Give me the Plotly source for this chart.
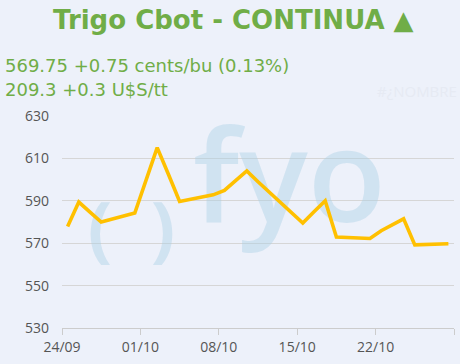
import plotly.graph_objects as go

dates = ["2024-09-24", "2024-09-25", "2024-09-26", "2024-09-27", "2024-09-30",
         "2024-10-01", "2024-10-02", "2024-10-03", "2024-10-04", "2024-10-07",
         "2024-10-08", "2024-10-09", "2024-10-10", "2024-10-11", "2024-10-14",
         "2024-10-15", "2024-10-16", "2024-10-17", "2024-10-18", "2024-10-21",
         "2024-10-22", "2024-10-23", "2024-10-24", "2024-10-25", "2024-10-28"]
prices = [577.9, 589.4, 584.7, 580.0, 584.2,
          599.6, 615.1, 602.5, 589.7, 592.8,
          594.9, 599.5, 604.1, 599.0, 584.4,
          579.5, 584.8, 590.0, 572.9, 572.2,
          575.9, 578.7, 581.5, 569.2, 569.75]

tick_vals = ["2024-09-24", "2024-10-01", "2024-10-08", "2024-10-15", "2024-10-22", "2024-10-29"]
tick_text = ["24/09", "01/10", "08/10", "15/10", "22/10", ""]

title = "Trigo Cbot - CONTINUA ▲"
line1 = "569.75 +0.75 cents/bu (0.13%)"
line2 = "209.3 +0.3 U$S/tt"

GREEN = "#70AD47"
GOLD = "#FFC000"
BG = "#EDF1FA"
WM = "rgba(170,208,228,0.42)"

fig = go.Figure()

# watermark (drawn beneath the line)
fig.add_trace(go.Scatter(
    x=["2024-09-27 09:20", "2024-10-03 00:30"], y=[573.5, 573.5],
    mode="text", text=["<b>(</b>", "<b>)</b>"],
    textfont=dict(family="Open Sans", size=72, color=WM),
    hoverinfo="skip", showlegend=False))
fig.add_trace(go.Scatter(
    x=["2024-10-14 07:30"], y=[595.1],
    mode="text", text=["fyo"],
    textfont=dict(family="Open Sans", size=128, color=WM, weight=600),
    hoverinfo="skip", showlegend=False))

fig.add_trace(go.Scatter(
    x=[d + " 12:00" for d in dates], y=prices,
    mode="lines", line=dict(color=GOLD, width=3.6),
    showlegend=False))

fig.update_layout(
    width=460, height=364,
    margin=dict(l=62, r=6, t=116, b=36),
    paper_bgcolor=BG, plot_bgcolor=BG,
    font=dict(family="Open Sans", size=14, color="#555555"),
    xaxis=dict(type="date", range=["2024-09-24", "2024-10-29"],
               tickvals=tick_vals, ticktext=tick_text,
               showgrid=False, showline=True, linecolor="#CCCCCC", linewidth=1,
               ticks="outside", ticklen=6, tickcolor="#CCCCCC",
               tickfont=dict(family="Open Sans", size=14, color="#555555"),
               zeroline=False),
    yaxis=dict(range=[530, 630], dtick=20, tick0=530,
               showgrid=True, gridcolor="#D6D6D6", gridwidth=1,
               showline=False, zeroline=False, ticks="",
               ticklabelstandoff=12,
               tickfont=dict(family="Open Sans", size=14, color="#555555")),
    annotations=[
        dict(text="<b>" + title + "</b>", xref="paper", yref="paper",
             x=0.5, y=1, xanchor="center", yanchor="middle",
             xshift=-25, yshift=116 - 20, showarrow=False,
             font=dict(family="DejaVu Sans", size=26, color=GREEN)),
        dict(text=line1, xref="paper", yref="paper", x=0, y=1,
             xanchor="left", yanchor="middle", xshift=-59, yshift=116 - 65,
             showarrow=False, font=dict(family="DejaVu Sans", size=18, color=GREEN)),
        dict(text=line2, xref="paper", yref="paper", x=0, y=1,
             xanchor="left", yanchor="middle", xshift=-59, yshift=116 - 89,
             showarrow=False, font=dict(family="DejaVu Sans", size=18, color=GREEN)),
        dict(text="#¿NOMBRE", xref="paper", yref="paper", x=0, y=1,
             xanchor="left", yanchor="middle", xshift=313, yshift=116 - 91,
             showarrow=False, font=dict(family="Open Sans", size=15, color="#E6EAF3")),
    ],
)

fig.write_html("out.html")
